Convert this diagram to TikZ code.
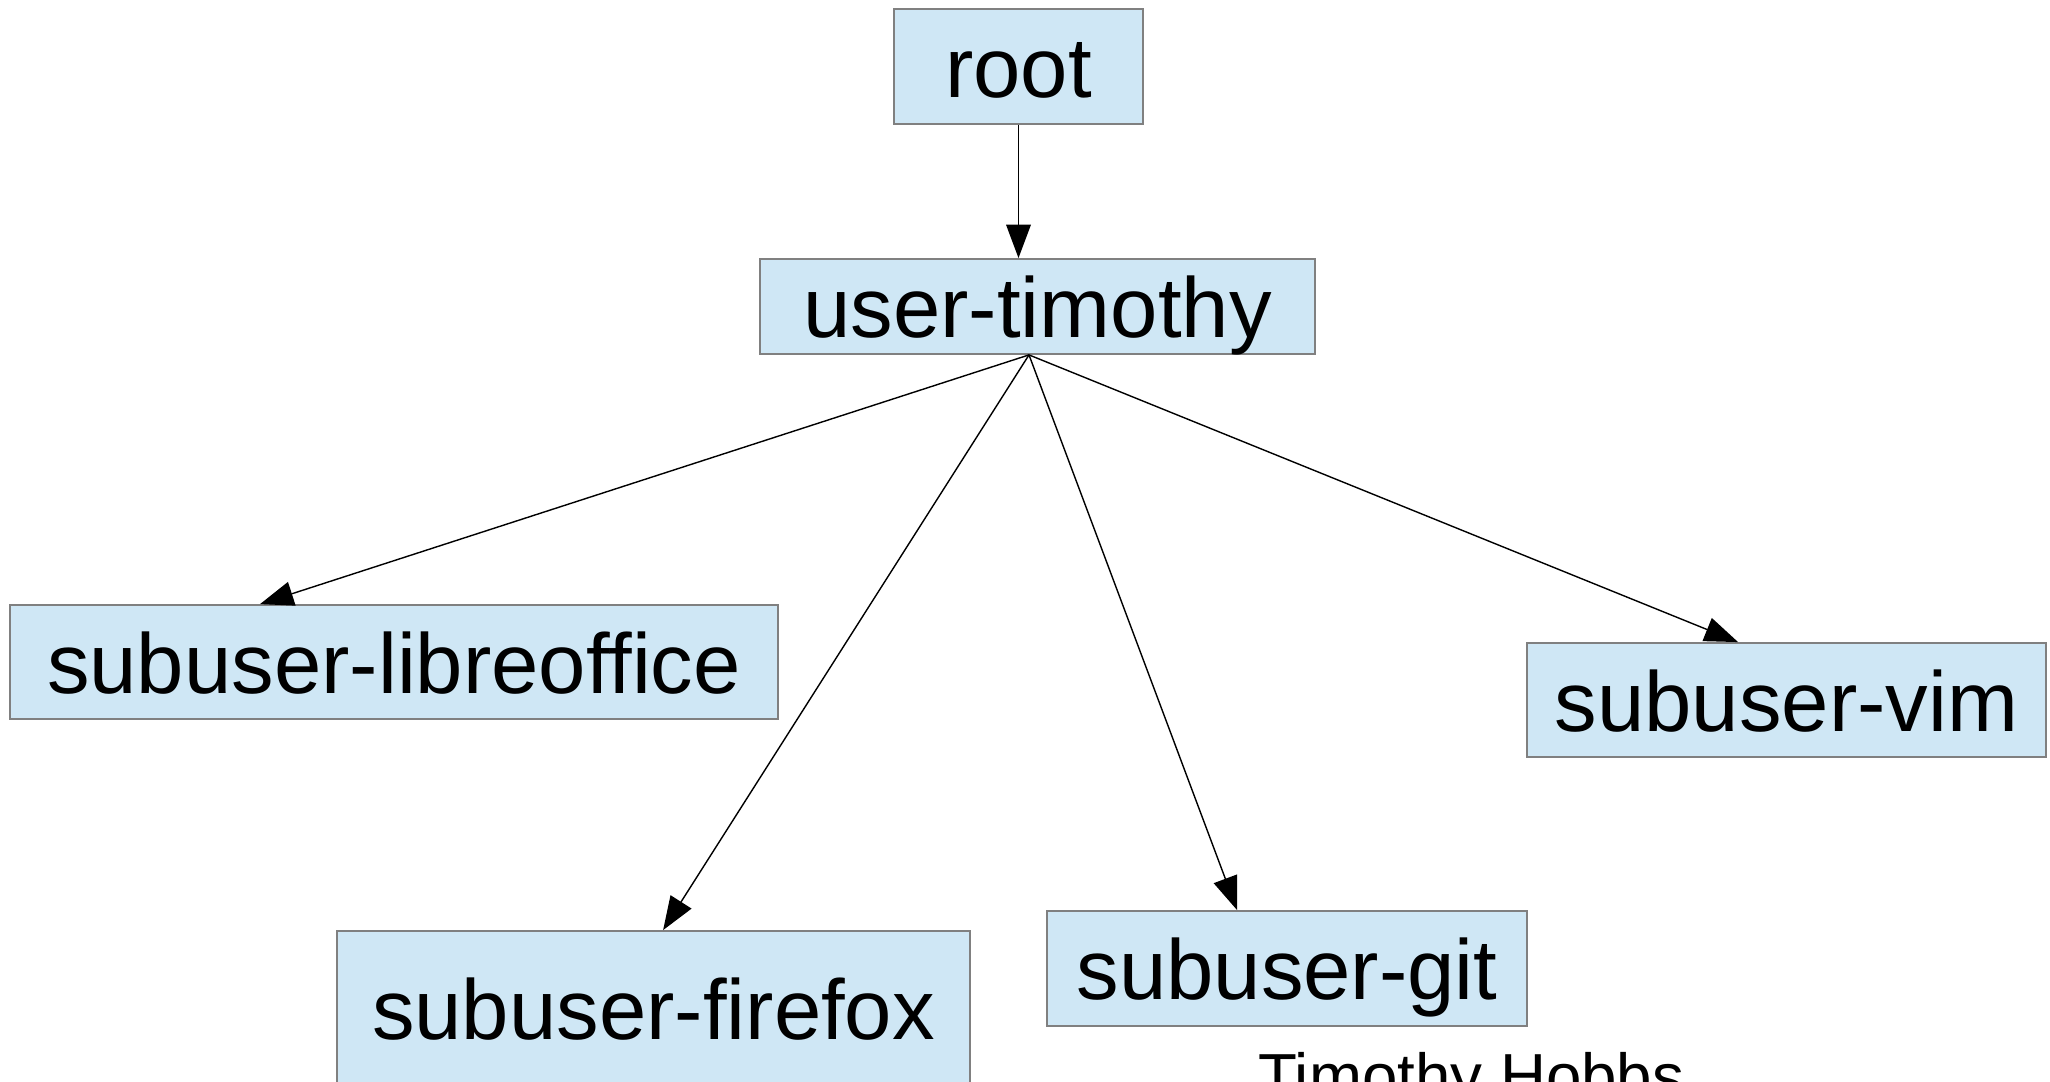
\documentclass[tikz,border=0pt]{standalone}
\usepackage{fontspec}
\setmainfont{Liberation Sans}
\usetikzlibrary{arrows.meta, positioning}
\definecolor{boxblue}{RGB}{207,231,245}
\definecolor{boxline}{RGB}{128,128,128}

\begin{document}
\begin{tikzpicture} [x=0.01cm, y=-0.01cm,
  account/.style = {rectangle, draw=boxline, line width=0.5pt, fill=boxblue, inner sep=0pt,
    text height=0.62cm, text depth=0cm, font=\fontsize{24.2pt}{29pt}\selectfont}]

\useasboundingbox (0,0) rectangle (2050,1082);
\clip (0,0) rectangle (2050,1082);

\node (root) [account, minimum width=2.49cm, minimum height=1.15cm] at (1018.5,66.5) {root};
\node (user) [account, minimum width=5.55cm, minimum height=0.95cm] at (1037.5,306.5) {user-timothy};
\node (lib) [account, minimum width=7.68cm, minimum height=1.14cm] at (394,662) {subuser-libreoffice};
\node (fox) [account, minimum width=6.33cm, minimum height=1.54cm] at (653.5,1008) {subuser-firefox};
\node (git) [account, minimum width=4.80cm, minimum height=1.15cm] at (1287,968.5) {subuser-git};
\node (vim) [account, minimum width=5.19cm, minimum height=1.14cm] at (1786.5,700) {subuser-vim};

\node (author) [anchor=base west, font=\fontsize{18.1pt}{22pt}\selectfont] at (1246,1098) {Timothy Hobbs};

\coordinate (fan) at ([xshift=-0.085cm]user.south);

\path [-{Triangle[length=9.5pt, width=7pt]}, line width=0.4pt]
	(root.south) edge (root.south |- user.north)
	(fan) edge ([xshift=2.51cm]lib.north west)
	(fan) edge ([xshift=3.27cm]fox.north west)
	(fan) edge ([xshift=1.91cm]git.north west)
	(fan) edge ([xshift=2.12cm]vim.north west);
\end{tikzpicture}
\end{document}
